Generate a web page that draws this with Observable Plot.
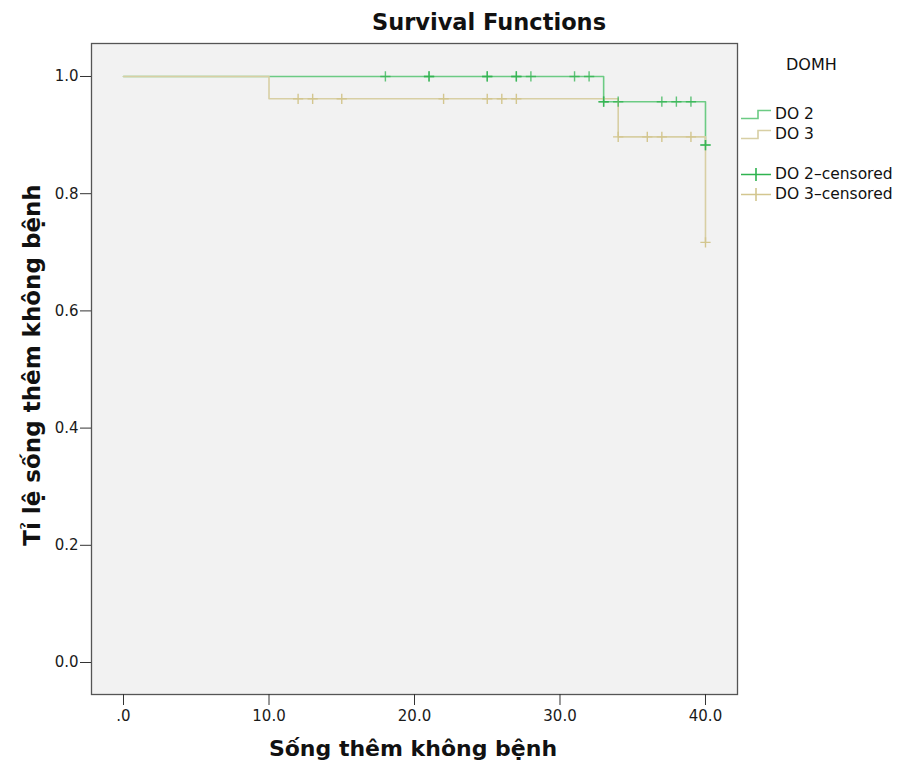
<!DOCTYPE html>
<html>
<head>
<meta charset="utf-8">
<script src="https://cdn.jsdelivr.net/npm/d3@7"></script>
<script src="https://cdn.jsdelivr.net/npm/@observablehq/plot@0.6"></script>
<style>
  html, body { margin: 0; padding: 0; background: #fff; }
  #wrap { position: relative; width: 903px; height: 766px; font-family: "DejaVu Sans", sans-serif; color: #111; }
  #title { position: absolute; left: 489px; top: 8px; transform: translateX(-50%); font-weight: bold; font-size: 22.5px; line-height: 28px; white-space: nowrap; }
  #chart { position: absolute; left: 0; top: 40px; }
  #chart svg text { font-size: 15px !important; font-family: "DejaVu Sans", sans-serif !important; }
  #xtitle { position: absolute; left: 413px; top: 735px; transform: translateX(-50%); font-weight: bold; font-size: 22px; line-height: 28px; white-space: nowrap; }
  #ytitle { position: absolute; left: 32px; top: 365px; transform: translate(-50%, -50%) rotate(-90deg); font-weight: bold; font-size: 23px; line-height: 28px; white-space: nowrap; }
  #legend { position: absolute; left: 740px; top: 52px; font-size: 15.5px; }
  #legend .head { position: absolute; left: 46px; top: 3px; font-size: 16px; }
  #legend .row { position: absolute; left: 0; height: 20px; display: flex; align-items: center; white-space: nowrap; }
  #legend svg { margin-right: 3px; }
</style>
</head>
<body>
<div id="wrap">
  <div id="title">Survival Functions</div>
  <div id="chart"></div>
  <div id="xtitle">Sống thêm không bệnh</div>
  <div id="ytitle">Tỉ lệ sống thêm không bệnh</div>
  <div id="legend"></div>
</div>
<script>
// ---- data ----
const groups = ["DO 2", "DO 3"];
const groupColors = ["#6ccb84", "#d8cfa4"];
const censorColors = ["#2fb34f", "#d3c68f"];

// step curves (time, survival)
const do2Times = [0, 33, 40];
const do2Surv  = [1.0, 0.957, 0.883];
const do3Times = [0, 10, 34, 40];
const do3Surv  = [1.0, 0.962, 0.897, 0.717];

// censored observations (time, survival at that time)
const do2CensTimes = [18, 21, 21, 25, 25, 27, 27, 28, 31, 32, 33, 33, 34, 37, 38, 39, 40, 40];
const do2CensSurv  = [1, 1, 1, 1, 1, 1, 1, 1, 1, 1, 0.957, 0.957, 0.957, 0.957, 0.957, 0.957, 0.883, 0.883];
const do3CensTimes = [12, 13, 15, 22, 25, 26, 27, 34, 36, 37, 39, 40];
const do3CensSurv  = [0.962, 0.962, 0.962, 0.962, 0.962, 0.962, 0.962, 0.897, 0.897, 0.897, 0.897, 0.717];

const xTicks = [0, 10, 20, 30, 40];
const xTickLabels = [".0", "10.0", "20.0", "30.0", "40.0"];
const yTicks = [0, 0.2, 0.4, 0.6, 0.8, 1.0];
const yTickLabels = ["0.0", "0.2", "0.4", "0.6", "0.8", "1.0"];

// ---- build tables ----
const curve2 = do2Times.map((t, i) => ({t, s: do2Surv[i]}));
const curve3 = do3Times.map((t, i) => ({t, s: do3Surv[i]}));
const cens2 = do2CensTimes.map((t, i) => ({t, s: do2CensSurv[i]}));
const cens3 = do3CensTimes.map((t, i) => ({t, s: do3CensSurv[i]}));

const chart = Plot.plot({
  width: 903,
  height: 726,
  marginTop: 3,
  marginBottom: 72,
  marginLeft: 91,
  marginRight: 166,
  style: {background: "transparent", fontFamily: "DejaVu Sans, sans-serif", fontSize: "15px", color: "#222"},
  x: {domain: [-2.2, 42.2]},
  y: {domain: [-0.0546, 1.0563]},
  marks: [
    Plot.frame({fill: "#f2f2f2", stroke: "#555", strokeWidth: 1.3}),
    Plot.axisX({ticks: xTicks, tickFormat: d => xTickLabels[xTicks.indexOf(d)], tickSize: 11, tickPadding: 5, label: null, stroke: "#333", fill: "#1a1a1a", fontSize: 15}),
    Plot.axisY({ticks: yTicks, tickFormat: d => yTickLabels[yTicks.findIndex(v => Math.abs(v - d) < 1e-9)], tickSize: 11, tickPadding: 2, label: null, stroke: "#333", fill: "#1a1a1a", fontSize: 15}),
    Plot.line(curve2, {x: "t", y: "s", curve: "step-after", stroke: groupColors[0], strokeWidth: 1.6}),
    Plot.line(curve3, {x: "t", y: "s", curve: "step-after", stroke: groupColors[1], strokeWidth: 1.6}),
    Plot.dot(cens3, {x: "t", y: "s", symbol: "plus", r: 3.4, stroke: censorColors[1], strokeWidth: 1.4}),
    Plot.dot(cens2, {x: "t", y: "s", symbol: "plus", r: 3.4, stroke: censorColors[0], strokeWidth: 1.4, strokeOpacity: 0.75})
  ]
});
document.getElementById("chart").appendChild(chart);

// ---- legend ----
const legend = document.getElementById("legend");
legend.innerHTML = `<div class="head">DOMH</div>`;
const rows = [
  {label: "DO 2", color: groupColors[0], kind: "step", top: 52},
  {label: "DO 3", color: groupColors[1], kind: "step", top: 72},
  {label: "DO 2\u2013censored", color: censorColors[0], kind: "cens", top: 112},
  {label: "DO 3\u2013censored", color: censorColors[1], kind: "cens", top: 132}
];
for (const r of rows) {
  const icon = r.kind === "step"
    ? `<svg width="32" height="20"><path d="M1,14.5H18V6.5H31" fill="none" stroke="${r.color}" stroke-width="1.6"/></svg>`
    : `<svg width="32" height="20"><path d="M1,10.5H31M16,4V17" fill="none" stroke="${r.color}" stroke-width="1.6"/></svg>`;
  const div = document.createElement("div");
  div.className = "row";
  div.style.top = r.top + "px";
  div.innerHTML = icon + `<span>${r.label}</span>`;
  legend.appendChild(div);
}
</script>
</body>
</html>
